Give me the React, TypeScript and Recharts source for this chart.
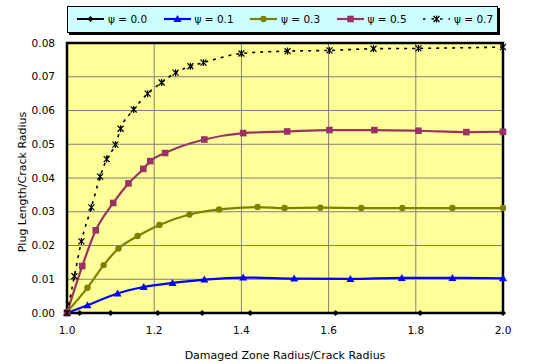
import { CartesianGrid, Label, Line, LineChart, ReferenceArea, XAxis, YAxis } from 'recharts';

// values (x = damaged zone radius / crack radius, y = plug length / crack radius)
const psi00 = [
  { x: 1.0, y: 0 }, { x: 1.029, y: 0 }, { x: 1.1, y: 0 }, { x: 1.208, y: 0 }, { x: 1.31, y: 0 },
  { x: 1.42, y: 0 }, { x: 1.616, y: 0 }, { x: 1.81, y: 0 }, { x: 2.0, y: 0 }
];
const psi01 = [
  { x: 1.0, y: 0 }, { x: 1.047, y: 0.0023 }, { x: 1.116, y: 0.0058 }, { x: 1.176, y: 0.0077 },
  { x: 1.242, y: 0.0089 }, { x: 1.315, y: 0.0099 }, { x: 1.404, y: 0.0105 }, { x: 1.521, y: 0.0102 },
  { x: 1.65, y: 0.0101 }, { x: 1.768, y: 0.0104 }, { x: 1.884, y: 0.0104 }, { x: 2.0, y: 0.0103 }
];
const psi03 = [
  { x: 1.0, y: 0.0003 }, { x: 1.047, y: 0.0075 }, { x: 1.084, y: 0.0142 }, { x: 1.118, y: 0.0191 },
  { x: 1.162, y: 0.0228 }, { x: 1.212, y: 0.0261 }, { x: 1.281, y: 0.0292 }, { x: 1.349, y: 0.0307 },
  { x: 1.437, y: 0.0314 }, { x: 1.499, y: 0.0311 }, { x: 1.581, y: 0.0312 }, { x: 1.675, y: 0.0311 },
  { x: 1.769, y: 0.0311 }, { x: 1.884, y: 0.0311 }, { x: 2.0, y: 0.0311 }
];
const psi05 = [
  { x: 1.0, y: 0 }, { x: 1.035, y: 0.0139 }, { x: 1.066, y: 0.0245 }, { x: 1.106, y: 0.0326 },
  { x: 1.141, y: 0.0384 }, { x: 1.175, y: 0.0427 }, { x: 1.191, y: 0.045 }, { x: 1.225, y: 0.0474 },
  { x: 1.315, y: 0.0514 }, { x: 1.404, y: 0.0533 }, { x: 1.505, y: 0.0538 }, { x: 1.602, y: 0.0542 },
  { x: 1.705, y: 0.0542 }, { x: 1.806, y: 0.054 }, { x: 1.916, y: 0.0536 }, { x: 2.0, y: 0.0537 }
];
const psi07 = [
  { x: 1.0, y: 0 }, { x: 1.017, y: 0.0109 }, { x: 1.033, y: 0.0212 }, { x: 1.056, y: 0.0313 },
  { x: 1.076, y: 0.0404 }, { x: 1.091, y: 0.0456 }, { x: 1.111, y: 0.0499 }, { x: 1.123, y: 0.0546 },
  { x: 1.153, y: 0.0603 }, { x: 1.185, y: 0.065 }, { x: 1.217, y: 0.0683 }, { x: 1.249, y: 0.0712 },
  { x: 1.283, y: 0.0731 }, { x: 1.313, y: 0.0742 }, { x: 1.4, y: 0.0769 }, { x: 1.506, y: 0.0776 },
  { x: 1.602, y: 0.0778 }, { x: 1.703, y: 0.0783 }, { x: 1.806, y: 0.0784 }, { x: 2.0, y: 0.0788 }
];

const xTicks = [1.0, 1.2, 1.4, 1.6, 1.8, 2.0];
const yTicks = [0, 0.01, 0.02, 0.03, 0.04, 0.05, 0.06, 0.07, 0.08];
const legendNames = ['ψ = 0.0', 'ψ = 0.1', 'ψ = 0.3', 'ψ = 0.5', 'ψ = 0.7'];

const FONT = '"DejaVu Sans", Verdana, sans-serif';
const tickStyle = { fill: '#000', fontSize: 10.5, fontFamily: FONT };

type Dot = { cx?: number; cy?: number; index?: number };

const diamond = (color: string) => (p: Dot) => {
  const { cx = 0, cy = 0 } = p;
  return <path key={p.index} d={`M${cx},${cy - 3}L${cx + 3},${cy}L${cx},${cy + 3}L${cx - 3},${cy}Z`} fill={color} />;
};
const triangle = (color: string) => (p: Dot) => {
  const { cx = 0, cy = 0 } = p;
  return <path key={p.index} d={`M${cx},${cy - 4}L${cx + 4},${cy + 3}L${cx - 4},${cy + 3}Z`} fill={color} />;
};
const circle = (color: string) => (p: Dot) => <circle key={p.index} cx={p.cx} cy={p.cy} r={3.2} fill={color} />;
const square = (color: string) => (p: Dot) => (
  <rect key={p.index} x={(p.cx ?? 0) - 3.3} y={(p.cy ?? 0) - 3.3} width={6.6} height={6.6} fill={color} />
);
const star = (color: string) => (p: Dot) => {
  const { cx = 0, cy = 0 } = p;
  return (
    <path key={p.index} stroke={color} strokeWidth={1.2}
      d={`M${cx - 3},${cy - 3}L${cx + 3},${cy + 3}M${cx + 3},${cy - 3}L${cx - 3},${cy + 3}M${cx},${cy - 3.5}L${cx},${cy + 3.5}`} />
  );
};

const series = [
  { data: psi00, color: '#000000', dot: diamond('#000000'), dash: undefined, width: 2, type: 'linear' as const },
  { data: psi01, color: '#0000FF', dot: triangle('#0000FF'), dash: undefined, width: 2.2, type: 'monotone' as const },
  { data: psi03, color: '#808000', dot: circle('#808000'), dash: undefined, width: 2.2, type: 'monotone' as const },
  { data: psi05, color: '#993366', dot: square('#993366'), dash: undefined, width: 2.2, type: 'monotone' as const },
  { data: psi07, color: '#000000', dot: star('#000000'), dash: '3 5', width: 1.6, type: 'monotone' as const }
];

function LegendBox() {
  return (
    <div style={{ position: 'absolute', left: 67, top: 6, width: 429, height: 25, background: '#CCFFFF', border: '1px solid #000', boxShadow: '2px 2px 0 #000', fontFamily: FONT, fontSize: 10.5 }}>
      {series.map((s, i) => (
        <div key={i} style={{ position: 'absolute', left: 9 + i * 86.5, top: 6, display: 'flex', alignItems: 'center', whiteSpace: 'nowrap' }}>
          <svg width={28} height={12}>
            <line x1={0} y1={6} x2={27} y2={6} stroke={s.color} strokeWidth={s.width} strokeDasharray={s.dash ? '2.5 6' : undefined} />
            {s.dot({ cx: 13.5, cy: 6, index: 0 })}
          </svg>
          <span style={{ marginLeft: 3 }}>{legendNames[i]}</span>
        </div>
      ))}
    </div>
  );
}

export default function App() {
  return (
    <div style={{ position: 'absolute', left: 0, top: 0, width: 546, height: 364, background: '#fff' }}>
      <LineChart width={546} height={364} margin={{ top: 43, right: 43, bottom: 0, left: 0 }}>
        <CartesianGrid fill="#FFFF99" stroke="#808080" strokeWidth={1} />
        <XAxis type="number" dataKey="x" domain={[1, 2]} ticks={xTicks} tickFormatter={(v: number) => v.toFixed(1)}
          tick={tickStyle} tickLine={false} axisLine={false} height={51} tickMargin={8} allowDuplicatedCategory={false}>
          <Label value="Damaged Zone Radius/Crack Radius" position="insideBottom" offset={5}
            style={{ fill: '#000', fontSize: 11, fontFamily: FONT }} />
        </XAxis>
        <YAxis type="number" domain={[0, 0.08]} ticks={yTicks} tickFormatter={(v: number) => v.toFixed(2)}
          tick={tickStyle} tickLine={false} axisLine={false} width={67} tickMargin={6}>
          <Label content={({ viewBox }: any) => {
            const cx = viewBox.x + 22;
            const cy = viewBox.y + viewBox.height / 2 + 4;
            return (
              <text x={cx} y={cy} transform={`rotate(-90 ${cx} ${cy})`} textAnchor="middle" dominantBaseline="central"
                style={{ fill: '#000', fontSize: 11, fontFamily: FONT }}>Plug Length/Crack Radius</text>
            );
          }} />
        </YAxis>
        <ReferenceArea x1={1} x2={2} y1={0} y2={0.08} fill="none" stroke="#000" strokeWidth={2.5} />
        {series.map((s, i) => (
          <Line key={i} data={s.data} dataKey="y" type={s.type} stroke={s.color} strokeWidth={s.width}
            strokeDasharray={s.dash} dot={s.dot} activeDot={false} isAnimationActive={false} />
        ))}
      </LineChart>
      <LegendBox />
    </div>
  );
}
